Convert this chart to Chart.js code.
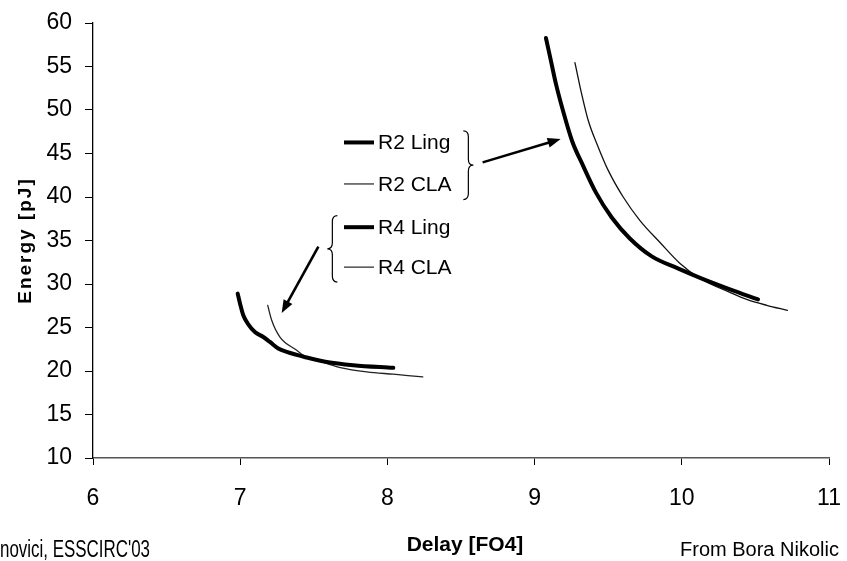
<!DOCTYPE html>
<html>
<head>
<meta charset="utf-8">
<script src="https://cdn.jsdelivr.net/npm/chart.js@4.4.1/dist/chart.umd.min.js"></script>
<style>
  html, body { margin: 0; padding: 0; background: #fff; }
  canvas { display: block; }
</style>
</head>
<body>
<canvas id="chart" width="847" height="561"></canvas>
<script>
const xTicks = [6, 7, 8, 9, 10, 11];
const yTicks = [10, 15, 20, 25, 30, 35, 40, 45, 50, 55, 60];

const r4LingX = [6.983, 6.999, 7.021, 7.055, 7.10, 7.157, 7.202, 7.259, 7.316, 7.452, 7.588, 7.768, 8.04];
const r4LingY = [28.89, 27.74, 26.4, 25.37, 24.48, 23.91, 23.34, 22.58, 22.19, 21.55, 21.04, 20.67, 20.36];

const r4ClaX = [7.187, 7.214, 7.27, 7.384, 7.43, 7.59, 7.68, 7.86, 8.04, 8.24];
const r4ClaY = [27.55, 25.83, 23.9, 22.39, 21.8, 20.86, 20.4, 19.9, 19.63, 19.33];

const r2LingX = [9.077, 9.111, 9.145, 9.193, 9.254, 9.329, 9.417, 9.524, 9.647, 9.796, 9.973, 10.124, 10.327, 10.518];
const r2LingY = [58.28, 55.64, 53.0, 49.91, 46.47, 43.6, 40.5, 37.64, 35.23, 33.17, 31.79, 30.7, 29.38, 28.23];

const r2ClaX = [9.274, 9.32, 9.365, 9.433, 9.501, 9.603, 9.716, 9.852, 9.988, 10.124, 10.327, 10.441, 10.577, 10.717];
const r2ClaY = [55.45, 51.82, 48.76, 45.7, 43.03, 39.97, 37.29, 34.77, 32.36, 30.64, 29.04, 28.23, 27.55, 26.97];

// key labels drawn inside the plot, in data units
const keyNames = ["R2 Ling", "R2 CLA", "R4 Ling", "R4 CLA"];
const keyY = [46.27, 41.5, 36.53, 31.94];
const keyLineX = [7.705, 7.909];
const keyTextX = 7.936;

const FONT = '"Liberation Sans", Arial, sans-serif';

function zip(xs, ys){
  return xs.map((x, i) => ({ x, y: ys[i] }));
}

function line(label, xs, ys, width, color){
  return {
    label,
    data: zip(xs, ys),
    showLine: true,
    borderColor: color,
    borderWidth: width,
    pointRadius: 0,
    cubicInterpolationMode: "monotone",
    borderCapStyle: "round",
    borderJoinStyle: "round",
    fill: false,
  };
}

function arrow(ctx, x1, y1, x2, y2){
  const a = Math.atan2(y2 - y1, x2 - x1);
  const len = 13, half = 5;
  ctx.beginPath();
  ctx.moveTo(x1, y1);
  ctx.lineTo(x2 - Math.cos(a) * len * 0.8, y2 - Math.sin(a) * len * 0.8);
  ctx.lineWidth = 2.6;
  ctx.stroke();
  ctx.beginPath();
  ctx.moveTo(x2, y2);
  ctx.lineTo(x2 - Math.cos(a) * len + Math.sin(a) * half, y2 - Math.sin(a) * len - Math.cos(a) * half);
  ctx.lineTo(x2 - Math.cos(a) * len - Math.sin(a) * half, y2 - Math.sin(a) * len + Math.cos(a) * half);
  ctx.closePath();
  ctx.fill();
}

// dir = 1 -> "}" , dir = -1 -> "{"
function brace(ctx, x, top, bot, dir){
  const d = 5 * dir;
  const mid = (top + bot) / 2;
  ctx.beginPath();
  ctx.moveTo(x - d, top);
  ctx.quadraticCurveTo(x, top, x, top + 6);
  ctx.lineTo(x, mid - 6);
  ctx.quadraticCurveTo(x, mid, x + d, mid);
  ctx.quadraticCurveTo(x, mid, x, mid + 6);
  ctx.lineTo(x, bot - 6);
  ctx.quadraticCurveTo(x, bot, x - d, bot);
  ctx.lineWidth = 1.2;
  ctx.stroke();
}

const notes = {
  id: "notes",
  afterDraw(chart){
    const { ctx, chartArea } = chart;
    const sx = (v) => chart.scales.x.getPixelForValue(v);
    const sy = (v) => chart.scales.y.getPixelForValue(v);
    ctx.save();
    ctx.strokeStyle = "#000";
    ctx.fillStyle = "#000";

    // key samples and labels
    keyNames.forEach((name, i) => {
      const thick = name.includes("Ling");
      ctx.beginPath();
      ctx.moveTo(sx(keyLineX[0]), sy(keyY[i]));
      ctx.lineTo(sx(keyLineX[1]), sy(keyY[i]));
      ctx.lineWidth = thick ? 4 : 1.2;
      ctx.strokeStyle = thick ? "#000" : "#222";
      ctx.stroke();
      ctx.font = `21px ${FONT}`;
      ctx.textAlign = "left";
      ctx.textBaseline = "middle";
      ctx.fillText(name, sx(keyTextX), sy(keyY[i]) + 1);
    });
    ctx.strokeStyle = "#000";

    brace(ctx, sx(8.55), sy(47.61), sy(39.7), 1);
    brace(ctx, sx(7.626), sy(37.87), sy(30.22), -1);
    arrow(ctx, sx(8.647), sy(43.98), sx(9.177), sy(46.66));
    arrow(ctx, sx(7.531), sy(34.31), sx(7.282), sy(26.66));

    // axis titles
    ctx.save();
    ctx.translate(26, (chartArea.top + chartArea.bottom) / 2);
    ctx.rotate(-Math.PI / 2);
    ctx.font = `bold 19px ${FONT}`;
    ctx.letterSpacing = "2px";
    ctx.textAlign = "center";
    ctx.textBaseline = "middle";
    ctx.fillText("Energy [pJ]", 0, 0);
    ctx.restore();

    ctx.font = `bold 21px ${FONT}`;
    ctx.textAlign = "center";
    ctx.textBaseline = "alphabetic";
    ctx.fillText("Delay [FO4]", 465, 551);

    ctx.font = `20px ${FONT}`;
    ctx.textAlign = "left";
    ctx.fillText("From Bora Nikolic", 680, 556);

    // condensed credit text, squeezed to the narrow face of the original
    const credit = "novici, ESSCIRC'03";
    ctx.font = `23px ${FONT}`;
    const w = ctx.measureText(credit).width;
    ctx.save();
    ctx.translate(0, 557);
    ctx.scale(150 / w, 1);
    ctx.fillText(credit, 0, 0);
    ctx.restore();
    ctx.restore();
  },
};

new Chart(document.getElementById("chart"), {
  type: "scatter",
  data: {
    datasets: [
      line("R2 Ling", r2LingX, r2LingY, 4, "#000"),
      line("R2 CLA", r2ClaX, r2ClaY, 1.3, "#111"),
      line("R4 Ling", r4LingX, r4LingY, 4, "#000"),
      line("R4 CLA", r4ClaX, r4ClaY, 1.3, "#222"),
    ],
  },
  options: {
    responsive: false,
    animation: false,
    devicePixelRatio: 1,
    layout: { padding: { top: 23, right: 18, left: 0, bottom: 0 } },
    plugins: { legend: { display: false }, tooltip: { enabled: false } },
    scales: {
      x: {
        type: "linear",
        min: xTicks[0],
        max: xTicks[xTicks.length - 1],
        afterBuildTicks: (s) => { s.ticks = xTicks.map((v) => ({ value: v })); },
        afterFit: (s) => { s.height = 103; s.paddingLeft = 0; s.paddingRight = 0; },
        border: { display: true, color: "#555", width: 1.5 },
        grid: { drawOnChartArea: false, drawTicks: true, tickLength: 7, color: "#000" },
        ticks: { color: "#000", padding: 20, font: { family: FONT, size: 23 } },
      },
      y: {
        type: "linear",
        min: yTicks[0],
        max: yTicks[yTicks.length - 1],
        afterBuildTicks: (s) => { s.ticks = yTicks.map((v) => ({ value: v })); },
        afterFit: (s) => { s.width = 93; s.paddingTop = 0; s.paddingBottom = 0; },
        border: { display: true, color: "#000", width: 1.3 },
        grid: { drawOnChartArea: false, drawTicks: true, tickLength: 8, color: "#000" },
        ticks: { color: "#000", padding: 13, font: { family: FONT, size: 23 } },
      },
    },
  },
  plugins: [notes],
});
</script>
</body>
</html>
